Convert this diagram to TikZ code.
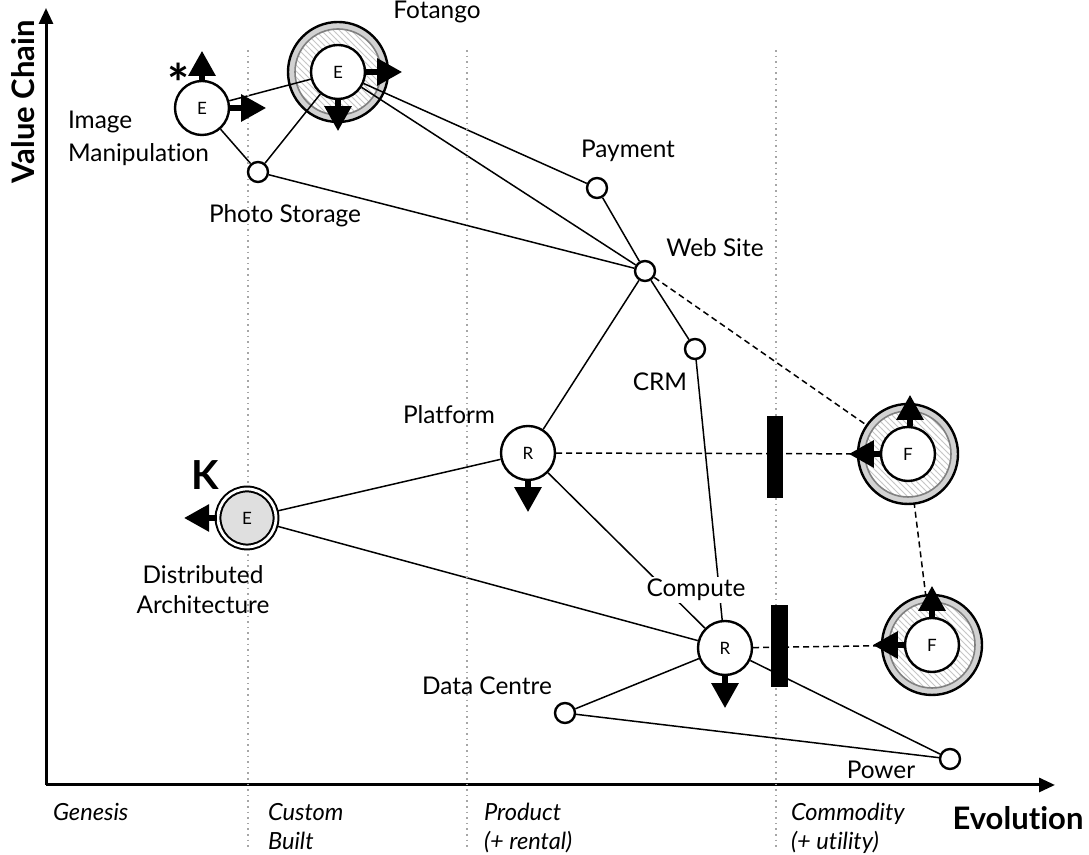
\documentclass[tikz,border=0pt]{standalone}
\usepackage{fontspec}
\setmainfont[Ligatures=NoCommon]{Lato}
\usetikzlibrary{arrows.meta,patterns,backgrounds}

\begin{document}
\begin{tikzpicture}[x=.5pt,y=.5pt,
  every node/.append style={font=\fontsize{12.2}{15}\selectfont},
  comp/.style={circle,draw,line width=1.2pt,fill=white,minimum size=27pt,inner sep=0pt,
    font=\fontsize{8.5}{10}\selectfont},
  dot/.style={circle,draw,line width=1.2pt,fill=white,minimum size=10pt,inner sep=0pt},
  bar/.style={fill=black,minimum width=8.3pt,minimum height=41pt,inner sep=0pt},
  link/.style={line width=.75pt},
  dlink/.style={line width=.75pt,dash pattern=on 3pt off 2pt},
  move/.style={line width=2.8pt,-{Triangle[length=12.5pt,width=13pt]}},
  axis/.style={line width=1.5pt,-{Triangle[length=8pt,width=7pt]}},
  stage/.style={gray!70,line width=.8pt,dotted},
  phase/.style={anchor=north west,align=left,font=\fontsize{11.8}{14.5}\selectfont\itshape}]
  \useasboundingbox (0,0) rectangle (1089,855);

  % axes
  \coordinate (O) at (46,70);
  \coordinate (ytop) at (46,847);
  \coordinate (xend) at (1055,70);
  \draw[axis] (O) -- (ytop);
  \draw[axis] (O) -- (xend);
  \node[rotate=90,font=\fontsize{15.5}{17}\selectfont\bfseries] (vc) at (23,753) {Value Chain};
  \node[font=\fontsize{15.5}{17}\selectfont\bfseries] (evo) at (1018,37) {Evolution};

  % stages of evolution
  \foreach \x in {248,467,776}
    \draw[stage] (\x,805) -- (\x,7);
  \node[phase] (gen) at (46,59) {Genesis};
  \node[phase] (cus) at (261,59) {Custom\\Built};
  \node[phase] (pro) at (477,59) {Product\\(+ rental)};
  \node[phase] (cmd) at (784,59) {Commodity\\(+ utility)};

  % components
  \node[comp] (img) at (202,747) {E};
  \node[comp] (fot) at (338,783) {E};
  \node[dot] (photo) at (258,683) {};
  \node[dot] (pay) at (597,667) {};
  \node[dot] (web) at (645,584) {};
  \node[dot] (crm) at (695,506) {};
  \node[comp] (plat) at (528,402) {R};
  \node[comp,fill=gray!25,double,double distance=1.4pt,line width=1pt,minimum size=29pt] (dist) at (247,337) {E};
  \node[comp] (cmp) at (725,207) {R};
  \node[dot] (dc) at (565,142) {};
  \node[dot] (pow) at (950,96) {};
  \node[comp] (ftop) at (908,401) {F};
  \node[comp] (fbot) at (932,210) {F};

  % inertia
  \node[bar] (wall1) at (775,398) {};
  \node[bar] (wall2) at (779.5,209) {};

  \begin{scope}[on background layer]
    \draw[dlink] (web) -- (ftop);
    \draw[dlink] (plat) -- (ftop);
    \draw[dlink] (cmp) -- (fbot);
    \draw[dlink] (ftop) -- (fbot);
    \foreach \c in {fot,ftop,fbot}{
      \fill[gray!35] (\c) circle[radius=25pt];
      \fill[white] (\c) circle[radius=21.5pt];
      \fill[pattern=north west lines,pattern color=gray!45] (\c) circle[radius=21.5pt];
      \draw[gray,line width=.8pt] (\c) circle[radius=21.5pt];
      \draw[line width=1.2pt] (\c) circle[radius=25pt];
    }
    \draw[link] (img) -- (fot) (img) -- (photo) (fot) -- (photo)
      (fot) -- (pay) (fot) -- (web) (photo) -- (web) (pay) -- (web)
      (web) -- (crm) (web) -- (plat) (plat) -- (dist) (plat) -- (cmp)
      (crm) -- (cmp) (dist) -- (cmp) (cmp) -- (dc) (cmp) -- (pow) (dc) -- (pow);
  \end{scope}

  % movement
  \draw[move] (img.north) -- ++(0,29);
  \draw[move] (img.east) -- ++(36,0);
  \draw[move] (fot.east) -- ++(36,0);
  \draw[move] (fot.south) -- ++(0,-31);
  \draw[move] (dist.west) -- ++(-33,0);
  \draw[move] (plat.south) -- ++(0,-31);
  \draw[move] (cmp.south) -- ++(0,-32);
  \draw[move] ([xshift=1pt]ftop.north) -- ++(0,31);
  \draw[move] (ftop.west) -- ++(-31,0);
  \draw[move] (fbot.north) -- ++(0,31);
  \draw[move] (fbot.west) -- ++(-31,0);

  % labels
  \node[anchor=west,align=left,font=\fontsize{12.2}{16.5}\selectfont] (limg) at (61,717) {Image\\Manipulation};
  \node[font=\fontsize{26}{26}\selectfont\bfseries] (star) at (179,772) {*};
  \node (lfot) at (437,843) {Fotango};
  \node (lphoto) at (285,639) {Photo Storage};
  \node (lpay) at (628,704) {Payment};
  \node (lweb) at (715,607) {Web Site};
  \node (lcrm) at (660,473) {CRM};
  \node (lplat) at (449,440) {Platform};
  \node[font=\fontsize{20}{20}\selectfont\bfseries] (kk) at (205,380) {K};
  \node[align=center] (ldist) at (203,265) {Distributed\\Architecture};
  \node[fill=white,inner sep=1pt] (lcmp) at (696,265) {Compute};
  \node (ldc) at (487,169) {Data Centre};
  \node (lpow) at (881,85) {Power};
\end{tikzpicture}
\end{document}
